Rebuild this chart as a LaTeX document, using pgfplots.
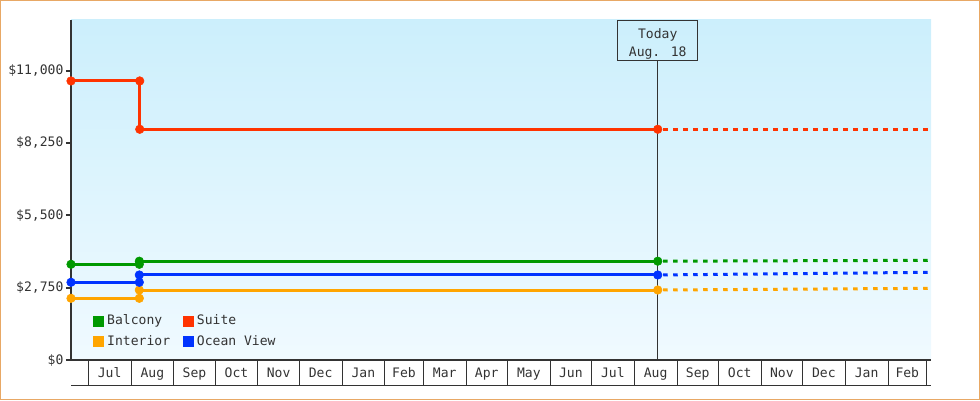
\documentclass[border=0pt]{standalone}
\usepackage{pgfplots}
\pgfplotsset{compat=1.18}
\usepackage{fontspec}
\setmainfont{DejaVu Sans Mono}

\newlength\px
\setlength\px{0.75pt}

\definecolor{axisc}{HTML}{333333}
\definecolor{textc}{HTML}{333333}
\definecolor{framec}{HTML}{E8A865}
\definecolor{bgtop}{HTML}{CCEFFC}
\definecolor{bgbot}{HTML}{F0FAFF}
\definecolor{cBal}{HTML}{009900}
\definecolor{cSui}{HTML}{FF3300}
\definecolor{cInt}{HTML}{FFA500}
\definecolor{cOce}{HTML}{0033FF}

\newcommand{\chartfont}{\fontsize{9.8pt}{13.5pt}\selectfont}

\pgfplotsset{
  past/.style={line width=3\px, mark=*, mark size=4.3\px,
    mark options={solid, line width=0.5\px}, forget plot},
  future/.style={line width=3\px, dash pattern=on 4.5\px off 5.5\px, dash phase=4.5\px, forget plot},
}

\begin{document}
\begin{tikzpicture}[font=\chartfont]
\useasboundingbox (0,0) rectangle (980\px,400\px);
\draw[framec, line width=1\px] (0.5\px,0.5\px) rectangle (979.5\px,399.5\px);

\begin{axis}[
    name=ax,
    at={(71\px,40\px)}, anchor=south west,
    scale only axis,
    width=860\px, height=340\px,
    xmin=-12.55, xmax=611.2,
    ymin=0, ymax=12925,
    clip=false,
    axis background/.style={shade, top color=bgtop, bottom color=bgbot},
    axis x line=bottom, axis y line=left,
    axis line style={-, draw=axisc, line width=2\px},
    every outer x axis line/.append style={-},
    every outer y axis line/.append style={-},
    tick align=outside,
    major tick length=5\px,
    minor tick num=0,
    scaled y ticks=false,
    ytick={0,2750,5500,8250,11000},
    yticklabels={{\$0},{\$2,750},{\$5,500},{\$8,250},{\$11,000}},
    ytick style={draw=axisc, line width=2\px},
    yticklabel style={text=textc, font=\chartfont, inner sep=0pt, xshift=-2.3\px},
    % month names sit in the middle of each month
    xtick={15.5,46.5,77,107.5,138,168.5,199.5,229,258.5,289,319.5,350,380.5,411.5,442,472.5,503,533.5,564.5,594},
    xticklabels={Jul,Aug,Sep,Oct,Nov,Dec,Jan,Feb,Mar,Apr,May,Jun,Jul,Aug,Sep,Oct,Nov,Dec,Jan,Feb},
    xtick style={draw=none},
    xticklabel style={text=textc, font=\chartfont, anchor=base, yshift=-12.7\px},
    % month boundaries
    extra x ticks={0,31,62,92,123,153,184,215,243,274,304,335,365,396,427,457,488,518,549,580,608},
    extra x tick labels={},
    extra x tick style={major tick length=25\px, tick align=outside,
        xtick style={draw=axisc, line width=1\px}},
    legend columns=2,
    legend cell align=left,
    legend style={draw=none, fill=none, font=\chartfont, text=textc,
        at={(axis description cs:0,0)}, anchor=south west,
        xshift=22.3\px, yshift=11.7\px,
        inner sep=0pt, outer sep=0pt,
        nodes={inner sep=0pt, text height=0.76em, text depth=0.24em},
        /tikz/every odd column/.append style={column sep=3.4\px},
        /tikz/every even column/.append style={column sep=12.8\px},
        /tikz/row sep=7\px},
]

% today marker
\draw[axisc, line width=1\px] (axis cs:413,0) -- (axis cs:413,11406);
\node[draw=axisc, line width=1\px, minimum width=80\px, minimum height=40\px,
      inner sep=0pt, anchor=north] (tbox) at (axis cs:413,12925) {};
\node[text=textc, align=center, font=\chartfont, inner sep=0pt]
      at ([yshift=-3\px]tbox.center) {Today\\Aug. 18};

% Balcony
\addplot[cBal, past] coordinates {(-12.55,3638) (37,3638) (37,3756) (413,3756)};
\addplot[cBal, future] coordinates {(413,3756) (611.2,3790)};
% Suite
\addplot[cSui, past] coordinates {(-12.55,10608) (37.3,10608) (37.3,8771) (413,8771)};
\addplot[cSui, future] coordinates {(413,8771) (611.2,8771)};
% Interior
\addplot[cInt, past] coordinates {(-12.55,2346) (37,2346) (37,2661) (413,2661)};
\addplot[cInt, future] coordinates {(413,2661) (611.2,2726)};
% Ocean View
\addplot[cOce, past] coordinates {(-12.55,2954) (37,2954) (37,3232) (413,3232)};
\addplot[cOce, future] coordinates {(413,3232) (611.2,3334)};

\addlegendimage{legend image code/.code={\fill[cBal] (0pt,-5\px) rectangle (10\px,5\px);}}
\addlegendentry{Balcony}
\addlegendimage{legend image code/.code={\fill[cSui] (0pt,-5\px) rectangle (10\px,5\px);}}
\addlegendentry{Suite}
\addlegendimage{legend image code/.code={\fill[cInt] (0pt,-5\px) rectangle (10\px,5\px);}}
\addlegendentry{Interior}
\addlegendimage{legend image code/.code={\fill[cOce] (0pt,-5\px) rectangle (10\px,5\px);}}
\addlegendentry{Ocean View}
\end{axis}

\draw[axisc, line width=1\px] ([yshift=-25\px]ax.south west) -- ([yshift=-25\px]ax.south east);
\end{tikzpicture}
\end{document}
